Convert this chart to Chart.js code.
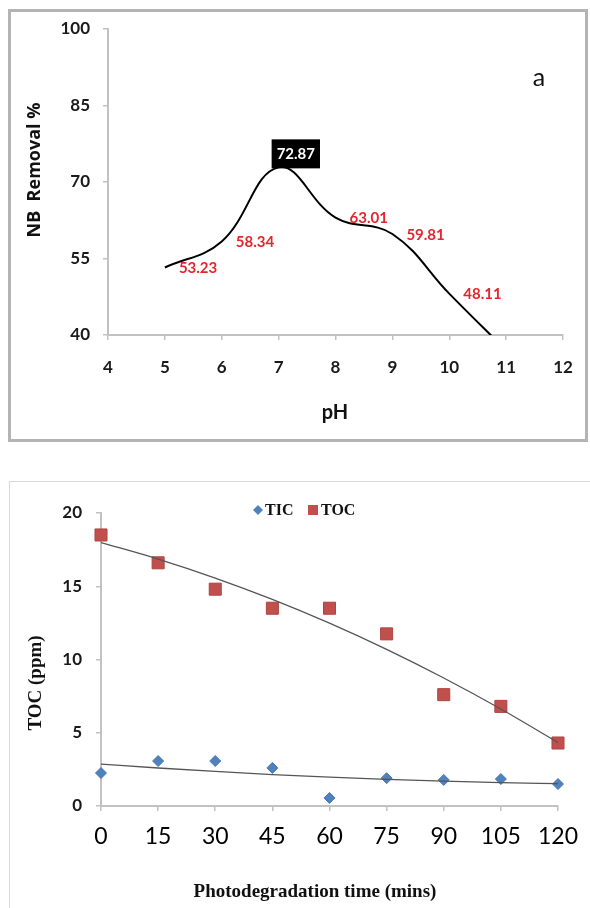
<!DOCTYPE html>
<html>
<head>
<meta charset="utf-8">
<script src="https://cdn.jsdelivr.net/npm/chart.js@4.4.1/dist/chart.umd.min.js"></script>
<style>
  body { margin: 0; background: #fff; width: 590px; height: 908px; overflow: hidden; position: relative; }
  .frame-a { position: absolute; left: 8px; top: 9px; width: 580px; height: 433px; border: 3px solid #b4b4b4; box-sizing: border-box; }
  .frame-b { position: absolute; left: 9px; top: 481px; width: 620px; height: 500px; border: 1px solid #d9d9d9; box-sizing: border-box; }
  canvas { position: absolute; left: 0; }
  #phChart { top: 0; }
  #tocChart { top: 460px; }
</style>
</head>
<body>
<div class="frame-a"></div>
<div class="frame-b"></div>
<canvas id="phChart" width="590" height="450"></canvas>
<canvas id="tocChart" width="590" height="448"></canvas>
<script>
// --- chart a: NB removal against pH ---
const phValues = [5, 6, 7, 8, 9, 10, 11];
const removal = [53.23, 58.34, 72.87, 63.01, 59.81, 48.11, 37];
const phTicks = [4, 5, 6, 7, 8, 9, 10, 11, 12];
const removalTicks = [40, 55, 70, 85, 100];

// --- chart b: TIC / TOC against time ---
const times = [0, 15, 30, 45, 60, 75, 90, 105, 120];
const tic = [2.25, 3.07, 3.07, 2.6, 0.55, 1.9, 1.78, 1.84, 1.5];
const toc = [18.5, 16.6, 14.8, 13.5, 13.5, 11.75, 7.6, 6.8, 4.3];
const timeTicks = [0, 15, 30, 45, 60, 75, 90, 105, 120];
const tocTicks = [0, 5, 10, 15, 20];

const axisGray = '#c2c2c2';

// least squares y = a + b x + c x^2 (like the excel poly trendline)
function quadFit(xs, ys) {
  const S = [[0, 0, 0], [0, 0, 0], [0, 0, 0]];
  const T = [0, 0, 0];
  xs.forEach((x, i) => {
    const p = [1, x, x * x];
    for (let r = 0; r < 3; r++) {
      T[r] += p[r] * ys[i];
      for (let c = 0; c < 3; c++) S[r][c] += p[r] * p[c];
    }
  });
  // gaussian elimination
  for (let k = 0; k < 3; k++) {
    for (let r = k + 1; r < 3; r++) {
      const f = S[r][k] / S[k][k];
      for (let c = k; c < 3; c++) S[r][c] -= f * S[k][c];
      T[r] -= f * T[k];
    }
  }
  const coef = [0, 0, 0];
  for (let r = 2; r >= 0; r--) {
    let s = T[r];
    for (let c = r + 1; c < 3; c++) s -= S[r][c] * coef[c];
    coef[r] = s / S[r][r];
  }
  return x => coef[0] + coef[1] * x + coef[2] * x * x;
}

const setTicks = arr => scale => { scale.ticks = arr.map(v => ({ value: v })); };

function textPlugin(id, items) {
  return {
    id,
    afterDraw(chart) {
      const ctx = chart.ctx;
      ctx.save();
      items.forEach(t => {
        ctx.save();
        ctx.translate(t.x, t.y);
        if (t.rot) ctx.rotate(t.rot);
        ctx.font = t.font;
        ctx.fillStyle = t.color || '#111';
        ctx.textAlign = 'center';
        ctx.textBaseline = 'middle';
        ctx.fillText(t.text, 0, 0);
        ctx.restore();
      });
      ctx.restore();
    }
  };
}

const pointLabels = {
  id: 'pointLabels',
  afterDatasetsDraw(chart) {
    const { ctx, chartArea } = chart;
    const meta = chart.getDatasetMeta(0);
    const peak = Math.max(...removal);
    ctx.save();
    ctx.textBaseline = 'middle';
    meta.data.forEach((pt, i) => {
      if (pt.y > chartArea.bottom) return;
      const txt = removal[i].toFixed(2);
      if (removal[i] === peak) {
        ctx.font = 'bold 15px Lato';
        const w = ctx.measureText(txt).width;
        ctx.fillStyle = '#000';
        ctx.fillRect(pt.x - 7, pt.y - 28, w + 10, 29);
        ctx.fillStyle = '#fff';
        ctx.textAlign = 'left';
        ctx.fillText(txt, pt.x - 2, pt.y - 13);
      } else {
        ctx.font = 'bold 15px Lato';
        ctx.fillStyle = '#e3262d';
        ctx.textAlign = 'left';
        ctx.fillText(txt, pt.x + 14, pt.y + 1);
      }
    });
    ctx.restore();
  }
};

new Chart(document.getElementById('phChart'), {
  type: 'line',
  data: {
    datasets: [{
      data: phValues.map((x, i) => ({ x, y: removal[i] })),
      borderColor: '#000',
      borderWidth: 2,
      pointRadius: 0,
      tension: 0.4,
      fill: false
    }]
  },
  options: {
    responsive: false,
    animation: false,
    layout: { padding: { left: 0, top: 29, right: 27, bottom: 0 } },
    plugins: { legend: { display: false }, tooltip: { enabled: false } },
    scales: {
      x: {
        type: 'linear', min: 4, max: 12,
        afterBuildTicks: setTicks(phTicks),
        afterFit: s => { s.height = 115; },
        grid: { drawOnChartArea: false, tickLength: 5, color: axisGray, lineWidth: 1.5 },
        border: { color: axisGray, width: 2 },
        ticks: { font: { family: 'Lato', size: 17, weight: 'bold' }, color: '#1a1a1a', padding: 17 }
      },
      y: {
        min: 40, max: 100,
        afterBuildTicks: setTicks(removalTicks),
        afterFit: s => { s.width = 108; },
        grid: { drawOnChartArea: false, tickLength: 5, color: axisGray, lineWidth: 1.5 },
        border: { color: axisGray, width: 2 },
        ticks: { font: { family: 'Lato', size: 17, weight: 'bold' }, color: '#1a1a1a', padding: 13 }
      }
    }
  },
  plugins: [pointLabels, textPlugin('titlesA', [
    { text: 'NB  Removal %', x: 35, y: 170, rot: -Math.PI / 2, font: 'bold 18px "Open Sans"' },
    { text: 'pH', x: 335, y: 413, font: 'bold 20px Lato' },
    { text: 'a', x: 539, y: 78, font: '25px Lato' }
  ])]
});

// legend drawn in the excel spot (overlapping the top of the plot)
const tocLegend = {
  id: 'tocLegend',
  afterDraw(chart) {
    const ctx = chart.ctx;
    ctx.save();
    ctx.font = 'bold 16px "Liberation Serif"';
    ctx.textBaseline = 'middle';
    const y = 50;
    // diamond
    ctx.fillStyle = '#4f81bd';
    ctx.beginPath();
    ctx.moveTo(258, y - 5); ctx.lineTo(263, y); ctx.lineTo(258, y + 5); ctx.lineTo(253, y);
    ctx.closePath(); ctx.fill();
    ctx.fillStyle = '#111';
    ctx.fillText('TIC', 265, y + 1);
    ctx.fillStyle = '#c0504d';
    ctx.fillRect(308, y - 5, 10, 10);
    ctx.fillStyle = '#111';
    ctx.fillText('TOC', 321, y + 1);
    ctx.restore();
  }
};

const ticFit = quadFit(times, tic);
const tocFit = quadFit(times, toc);

new Chart(document.getElementById('tocChart'), {
  type: 'scatter',
  data: {
    datasets: [
      {
        label: 'TIC trend', order: 0, showLine: true,
        data: times.map(t => ({ x: t, y: ticFit(t) })),
        borderColor: '#555', borderWidth: 1.3, pointRadius: 0, cubicInterpolationMode: 'monotone'
      },
      {
        label: 'TOC trend', order: 0, showLine: true,
        data: times.map(t => ({ x: t, y: tocFit(t) })),
        borderColor: '#555', borderWidth: 1.3, pointRadius: 0, cubicInterpolationMode: 'monotone'
      },
      {
        label: 'TIC', order: 1, clip: false,
        data: times.map((t, i) => ({ x: t, y: tic[i] })),
        pointStyle: 'rectRot', pointRadius: 5.5,
        backgroundColor: '#4f81bd', borderColor: '#4677b3', borderWidth: 1
      },
      {
        label: 'TOC', order: 1, clip: false,
        data: times.map((t, i) => ({ x: t, y: toc[i] })),
        pointStyle: 'rect', pointRadius: 8.5,
        backgroundColor: '#c0504d', borderColor: '#b0433f', borderWidth: 1
      }
    ]
  },
  options: {
    responsive: false,
    animation: false,
    layout: { padding: { left: 0, top: 53, right: 23, bottom: 0 } },
    plugins: { legend: { display: false }, tooltip: { enabled: false } },
    scales: {
      x: {
        type: 'linear', min: 0, max: 120,
        afterBuildTicks: setTicks(timeTicks),
        afterFit: s => { s.height = 102; },
        grid: { drawOnChartArea: false, tickLength: 5, color: axisGray, lineWidth: 1.5 },
        border: { color: axisGray, width: 2 },
        ticks: { font: { family: 'Lato', size: 23 }, color: '#000', padding: 12 }
      },
      y: {
        min: 0, max: 20,
        afterBuildTicks: setTicks(tocTicks),
        afterFit: s => { s.width = 101; },
        grid: { drawOnChartArea: false, tickLength: 5, color: axisGray, lineWidth: 1.5 },
        border: { color: axisGray, width: 2 },
        ticks: { font: { family: 'Lato', size: 17, weight: 'bold' }, color: '#1a1a1a', padding: 14 }
      }
    }
  },
  plugins: [tocLegend, textPlugin('titlesB', [
    { text: 'TOC (ppm)', x: 36, y: 223, rot: -Math.PI / 2, font: 'bold 19px "Liberation Serif"' },
    { text: 'Photodegradation time (mins)', x: 315, y: 432, font: 'bold 19px "Liberation Serif"' }
  ])]
});
</script>
</body>
</html>
